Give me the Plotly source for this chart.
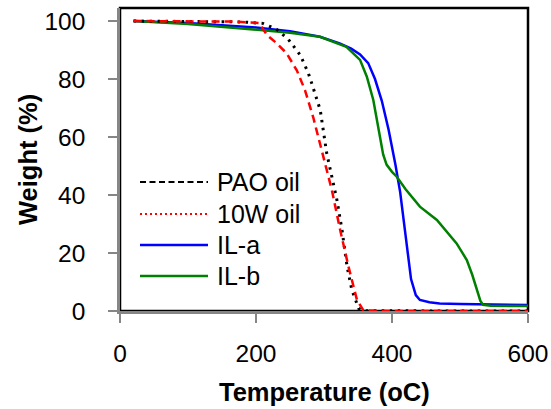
import plotly.graph_objects as go

# ---------------- data ----------------
pao_temp = [20, 100, 180, 210, 230, 247.5, 256, 265, 271, 277, 282, 287, 294.5, 304, 309, 319, 326.5, 334, 341, 348, 351, 358, 400, 500, 600]
pao_wt   = [100, 99.9, 99.7, 99.2, 97.2, 93.7, 91.1, 88.3, 85.2, 82, 78.5, 75, 69.3, 54.4, 48.6, 38.3, 27.9, 15.3, 7.2, 2.6, 0.9, 0.1, 0, 0, 0]

w10_temp = [20, 100, 172, 205, 216, 230.6, 245, 260, 272, 284.5, 299.3, 311.6, 323.8, 336, 348.5, 358, 400, 500, 600]
w10_wt   = [100, 99.9, 99.8, 99.3, 95.2, 92.3, 88.9, 83, 76.2, 66.5, 53.2, 41.7, 27.9, 15.3, 3.8, 0.2, 0, 0, 0]

ila_temp = [20, 100, 200, 250, 294, 323, 340, 353, 365, 375, 385, 395, 405, 412, 420, 428, 435, 441, 455, 470, 500, 550, 600]
ila_wt   = [100, 99.3, 97.8, 96.5, 94.6, 92.3, 90.5, 88.5, 85.5, 80, 72.5, 62.5, 50.5, 41, 26, 11, 5.5, 3.8, 3.0, 2.6, 2.4, 2.2, 2.1]

ilb_temp = [20, 100, 206, 250, 294, 333, 353, 363, 372.5, 382, 387, 392, 400, 407, 420, 441, 466, 495, 510, 518, 524.5, 530, 534, 545, 600]
ilb_wt   = [100, 99.0, 96.9, 96.0, 94.6, 91.1, 86.6, 80.8, 72.8, 60, 54, 50.5, 48, 46.3, 42, 36, 31.4, 23.3, 17.6, 12.5, 7.2, 3.5, 2.1, 1.8, 1.7]

legend_names = ["PAO oil", "10W oil", "IL-a", "IL-b"]
x_ticks = [0, 200, 400, 600]
y_ticks = [0, 20, 40, 60, 80, 100]
x_title = "Temperature (oC)"
y_title = "Weight (%)"

# ---------------- layout helpers ----------------
W, H = 551, 409
L, R, T, B = 120, 23, 8, 98
PW, PH = W - L - R, H - T - B
FONT = "Liberation Sans, Arial, sans-serif"

def px_x(p):
    return (p - L) / PW

def px_y(p):
    return (H - B - p) / PH

fig = go.Figure()
fig.add_trace(go.Scatter(x=ila_temp, y=ila_wt, mode="lines", line=dict(color="#0000FF", width=2.5), showlegend=False))
fig.add_trace(go.Scatter(x=ilb_temp, y=ilb_wt, mode="lines", line=dict(color="#008000", width=2.5), showlegend=False))
fig.add_trace(go.Scatter(x=pao_temp, y=pao_wt, mode="lines", line=dict(color="#000000", width=3, dash="2.5px,5.5px"), showlegend=False))
fig.add_trace(go.Scatter(x=w10_temp, y=w10_wt, mode="lines", line=dict(color="#FF0000", width=2.5, dash="8px,5px"), showlegend=False))

# manual legend (samples as drawn in the reference legend)
leg_styles = [
    dict(color="#000000", width=2, dash="6px,3.5px"),
    dict(color="#FF0000", width=2, dash="2px,3px"),
    dict(color="#0000FF", width=2.5, dash="solid"),
    dict(color="#008000", width=2.5, dash="solid"),
]
leg_rows = [182, 214, 245, 276]
for name, st, ry in zip(legend_names, leg_styles, leg_rows):
    fig.add_shape(type="line", xref="paper", yref="paper",
                  x0=px_x(140), x1=px_x(208), y0=px_y(ry), y1=px_y(ry),
                  line=st, layer="above")
    fig.add_annotation(xref="paper", yref="paper", x=px_x(215), y=px_y(ry),
                       text=name, showarrow=False, xanchor="left", yanchor="middle",
                       font=dict(family=FONT, size=25, color="#000000"))

# frame (black top/right)
fig.add_shape(type="rect", xref="paper", yref="paper", x0=0, x1=1, y0=0, y1=1,
              line=dict(color="#000000", width=2.5), layer="below")

# axis titles
fig.add_annotation(xref="paper", yref="paper", x=px_x(324), y=px_y(392),
                   text="<b>" + x_title + "</b>", showarrow=False,
                   xanchor="center", yanchor="middle",
                   font=dict(family=FONT, size=25.5, color="#000000"))
fig.add_annotation(xref="paper", yref="paper", x=px_x(28), y=px_y(160),
                   text="<b>" + y_title + "</b>", showarrow=False, textangle=-90,
                   xanchor="center", yanchor="middle",
                   font=dict(family=FONT, size=25.5, color="#000000"))

axis_common = dict(showgrid=False, zeroline=False, showline=True, linecolor="#868686",
                   linewidth=2.5, ticks="outside", ticklen=9, tickwidth=2,
                   tickcolor="#868686", layer="below traces", ticklabeloverflow="allow",
                   tickfont=dict(family=FONT, size=24.5, color="#000000"))

fig.update_layout(
    width=W, height=H,
    margin=dict(l=L, r=R, t=T, b=B, autoexpand=False),
    paper_bgcolor="white", plot_bgcolor="white",
    showlegend=False,
    xaxis=dict(range=[0, 600], tickvals=x_ticks, ticklabelstandoff=10, **axis_common),
    yaxis=dict(range=[0, 104.5], tickvals=y_ticks, ticklabelstandoff=18, **axis_common),
)

fig.write_html("out.html")
